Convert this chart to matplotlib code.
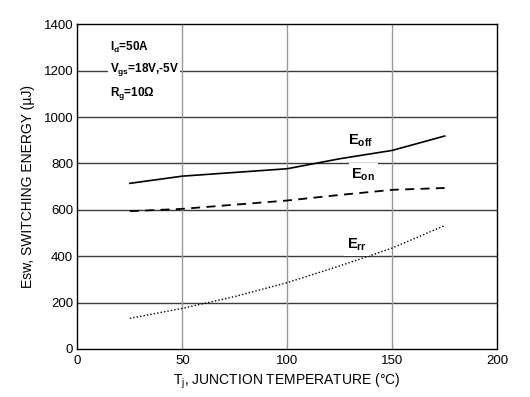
import matplotlib
matplotlib.use('Agg')
import matplotlib.pyplot as plt

plt.rcParams['font.family'] = ['Liberation Sans', 'DejaVu Sans']
plt.rcParams['mathtext.fontset'] = 'custom'
plt.rcParams['mathtext.rm'] = 'Liberation Sans'
plt.rcParams['mathtext.bf'] = 'Liberation Sans:bold'

# Data
tj = [25, 50, 75, 100, 125, 150, 175]
e_off = [714, 745, 761, 777, 820, 856, 918]
e_on = [594, 604, 622, 640, 664, 686, 694]
e_rr = [132, 175, 226, 286, 358, 435, 532]

x_ticks = [0, 50, 100, 150, 200]
y_ticks = [0, 200, 400, 600, 800, 1000, 1200, 1400]

fig = plt.figure(figsize=(5.30, 3.97), dpi=100)
ax = fig.add_axes([0.146, 0.121, 0.792, 0.818])

ax.plot(tj, e_off, color='black', lw=1.2, ls='-')
ax.plot(tj, e_on, color='black', lw=1.3, ls=(0, (5, 3.5)))
ax.plot(tj, e_rr, color='black', lw=1.0, ls=(0, (1, 1.5)))

ax.set_xlim(0, 200)
ax.set_ylim(0, 1400)
ax.set_xticks(x_ticks)
ax.set_yticks(y_ticks)
ax.tick_params(length=0, labelsize=9.5, pad=3)
ax.tick_params(axis='x', pad=4)

for y in y_ticks[1:-1]:
    ax.axhline(y, color='#3a3a3a', lw=1.0, zorder=0)
for x in x_ticks[1:-1]:
    ax.axvline(x, color='#999999', lw=1.0, zorder=0)

for s in ax.spines.values():
    s.set_color('black')
    s.set_linewidth(1.0)

ax.set_xlabel(r'T$_\mathregular{j}$, JUNCTION TEMPERATURE (°C)', fontsize=10, labelpad=4)
ax.set_ylabel('Esw, SWITCHING ENERGY (µJ)', fontsize=10, labelpad=6)

box = dict(facecolor='white', edgecolor='none', pad=2)
ax.text(129, 900, r'E$_\mathbf{off}$', fontsize=10.5, fontweight='bold',
        va='center', ha='left', bbox=box)
ax.text(130.5, 752, r'E$_\mathbf{on}$', fontsize=10.5, fontweight='bold',
        va='center', ha='left', bbox=box)
ax.text(128.3, 448, r'E$_\mathbf{rr}$', fontsize=10.5, fontweight='bold',
        va='center', ha='left', bbox=box)

cond = (r'I$_\mathbf{d}$=50A' + '\n' + r'V$_\mathbf{gs}$=18V,-5V' + '\n'
        + r'R$_\mathbf{g}$=10Ω')
ax.text(15.5, 1200, cond, fontsize=8.5, fontweight='bold', va='center',
        ha='left', linespacing=1.6, bbox=dict(facecolor='white',
                                              edgecolor='none', pad=1))

fig.savefig('out.png', dpi=100)
